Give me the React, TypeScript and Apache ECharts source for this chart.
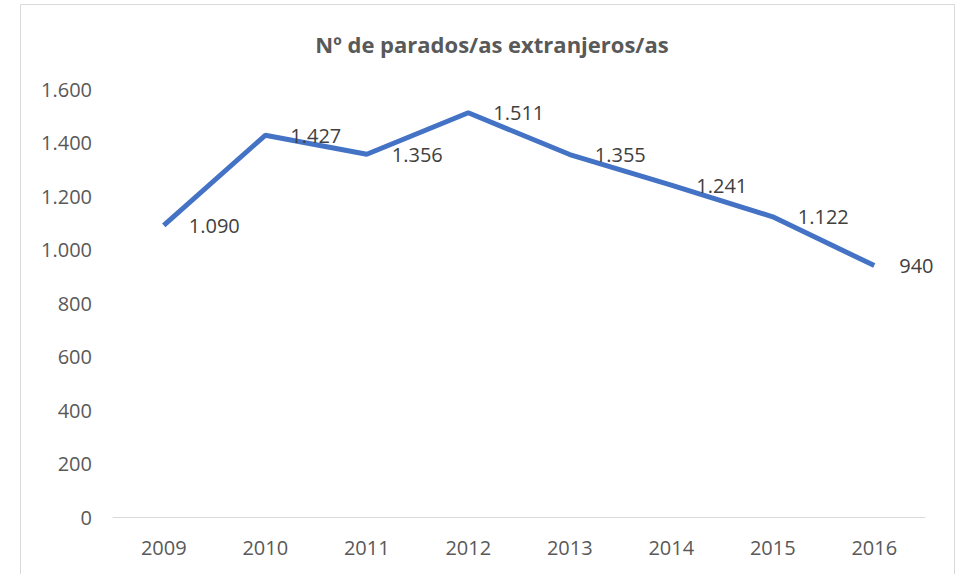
import React, { useEffect, useRef } from "react";
import * as echarts from "echarts";

const title = "Nº de parados/as extranjeros/as";
const years = ["2009", "2010", "2011", "2012", "2013", "2014", "2015", "2016"];
const parados = [1090, 1427, 1356, 1511, 1355, 1241, 1122, 940];

const fmt = (v: number) => String(v).replace(/\B(?=(\d{3})+(?!\d))/g, ".");

export default function App() {
  const ref = useRef<HTMLDivElement>(null);
  useEffect(() => {
    if (!ref.current) return;
    const chart = echarts.init(ref.current, null, { renderer: "svg" });
    chart.setOption({
      animation: false,
      backgroundColor: "#ffffff",
      textStyle: { fontFamily: "Open Sans" },
      title: {
        text: title,
        left: 487,
        textAlign: "center",
        top: 28,
        textStyle: { fontFamily: "Open Sans", fontWeight: "bold", fontSize: 22, color: "#595959" },
      },
      graphic: [
        {
          type: "rect",
          shape: { x: 20.5, y: 4.5, width: 934, height: 600 },
          style: { fill: "none", stroke: "#d9d9d9", lineWidth: 1 },
          silent: true,
        },
      ],
      grid: { left: 113, right: 34, top: 89, bottom: 57, containLabel: false },
      xAxis: {
        type: "category",
        data: years,
        boundaryGap: true,
        axisLine: { show: true, lineStyle: { color: "#d9d9d9", width: 1 } },
        axisTick: { show: false },
        axisLabel: { color: "#595959", fontSize: 20, margin: 20, fontFamily: "Open Sans" },
      },
      yAxis: {
        type: "value",
        min: 0,
        max: 1600,
        interval: 200,
        axisLine: { show: false },
        axisTick: { show: false },
        splitLine: { show: false },
        axisLabel: { color: "#595959", fontSize: 20, margin: 21, fontFamily: "Open Sans", formatter: (v: number) => fmt(v) },
      },
      series: [
        {
          type: "line",
          data: parados,
          symbol: "circle",
          symbolSize: 2,
          showSymbol: true,
          itemStyle: { color: "rgba(68,114,196,0)", borderWidth: 0 },
          lineStyle: { color: "#4472C4", width: 5 },
          label: {
            show: true,
            position: "right",
            distance: 24,
            color: "#404040",
            fontSize: 20,
            fontFamily: "Open Sans",
            formatter: (p: any) => fmt(p.value),
          },
        },
      ],
    });
    return () => chart.dispose();
  }, []);
  return (
    <div
      ref={ref}
      style={{ position: "fixed", left: 0, top: 0, width: 959, height: 574 }}
    />
  );
}
